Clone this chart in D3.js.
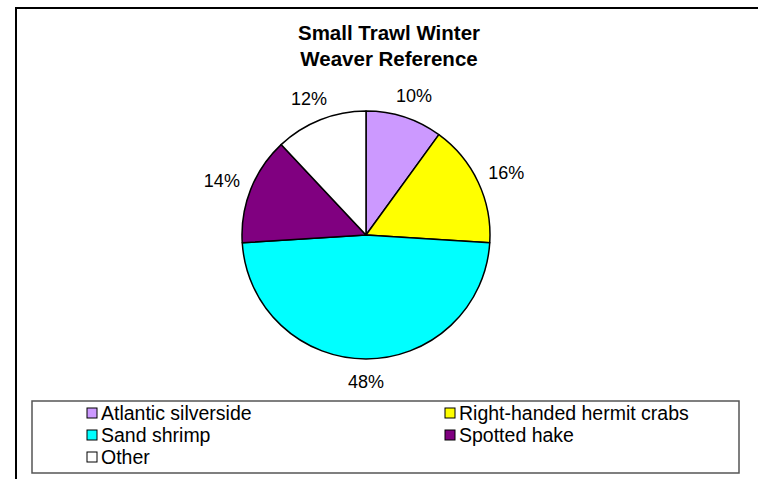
<!DOCTYPE html>
<html>
<head>
<meta charset="utf-8">
<script src="https://cdn.jsdelivr.net/npm/d3@7"></script>
<style>
  body { margin: 0; background: #fff; }
  svg { display: block; font-family: Arial, "Liberation Sans", sans-serif; }
</style>
</head>
<body>
<div id="chart"></div>
<script>
// chart data
var titleLines = ["Small Trawl Winter", "Weaver Reference"];
var categories = ["Atlantic silverside", "Right-handed hermit crabs", "Sand shrimp", "Spotted hake", "Other"];
var values = [10, 16, 48, 14, 12];
var colors = ["#CC99FF", "#FFFF00", "#00FFFF", "#800080", "#FFFFFF"];

var width = 758, height = 479;

var config = {
  "cx": 366,
  "cy": 235,
  "radius": 124,
  "labelGap": 13
};

var svg = d3.select("#chart").append("svg")
    .attr("width", width)
    .attr("height", height);

// outer chart frame (runs off the right and bottom edge)
svg.append("rect")
    .attr("x", 16)
    .attr("y", 8)
    .attr("width", width + 20)
    .attr("height", height + 20)
    .style("fill", "#fff")
    .style("stroke", "#000")
    .style("stroke-width", 2);

// title
svg.append("g")
    .selectAll("text")
    .data(titleLines)
    .enter()
    .append("text")
    .attr("x", 389)
    .attr("y", function (d, i) { return 40 + i * 26; })
    .attr("text-anchor", "middle")
    .style("font-size", "20.5px")
    .style("font-weight", "bold")
    .text(function (d) { return d; });

var data = categories.map(function (c, i) {
  return {name: c, value: values[i], color: colors[i]};
});

var total = d3.sum(values);

var pie = d3.pie()
    .sort(null)
    .value(function (d) { return d.value; });

var arc = d3.arc()
    .innerRadius(0)
    .outerRadius(config.radius);

var labelR = config.radius + config.labelGap;
var labelArc = d3.arc()
    .innerRadius(labelR)
    .outerRadius(labelR);

var g = svg.append("g")
    .attr("transform", "translate(" + config.cx + "," + config.cy + ")");

var slices = g.selectAll(".slice")
    .data(pie(data))
    .enter()
    .append("g")
    .attr("class", "slice");

slices.append("path")
    .attr("d", arc)
    .style("fill", function (d) { return d.data.color; })
    .style("stroke", "#000")
    .style("stroke-width", 1.5)
    .style("stroke-linejoin", "round");

//percentage labels outside the pie, pushed out by half their box
var labels = slices.append("text")
    .attr("text-anchor", "middle")
    .attr("dy", "0.35em")
    .style("font-size", "18px")
    .text(function (d) {
        return Math.round(d.data.value / total * 100) + "%";
    });

labels.attr("transform", function (d) {
    var c = labelArc.centroid(d),
        a = (d.startAngle + d.endAngle) / 2,
        b = this.getBBox();
    var x = c[0] + Math.sin(a) * b.width / 2,
        y = c[1] - Math.cos(a) * b.height / 2;
    return "translate(" + x + "," + y + ")";
});

// legend
var legend = svg.append("g");

legend.append("rect")
    .attr("x", 32)
    .attr("y", 401)
    .attr("width", 707)
    .attr("height", 72)
    .style("fill", "#fff")
    .style("stroke", "#555")
    .style("stroke-width", 1.5);

var legendX = d3.scalePoint().domain([0, 1]).range([87, 445]);
var legendY = d3.scalePoint().domain([0, 1, 2]).range([413, 457]);

var items = legend.selectAll(".item")
    .data(data)
    .enter()
    .append("g")
    .attr("class", "item")
    .attr("transform", function (d, i) {
        return "translate(" + legendX(i % 2) + "," + legendY(Math.floor(i / 2)) + ")";
    });

items.append("rect")
    .attr("x", 0)
    .attr("y", -5)
    .attr("width", 10)
    .attr("height", 10)
    .style("fill", function (d) { return d.color; })
    .style("stroke", "#000")
    .style("stroke-width", 1);

items.append("text")
    .attr("x", 14)
    .attr("dy", "0.35em")
    .style("font-size", "19.5px")
    .text(function (d) { return d.name; });
</script>
</body>
</html>
